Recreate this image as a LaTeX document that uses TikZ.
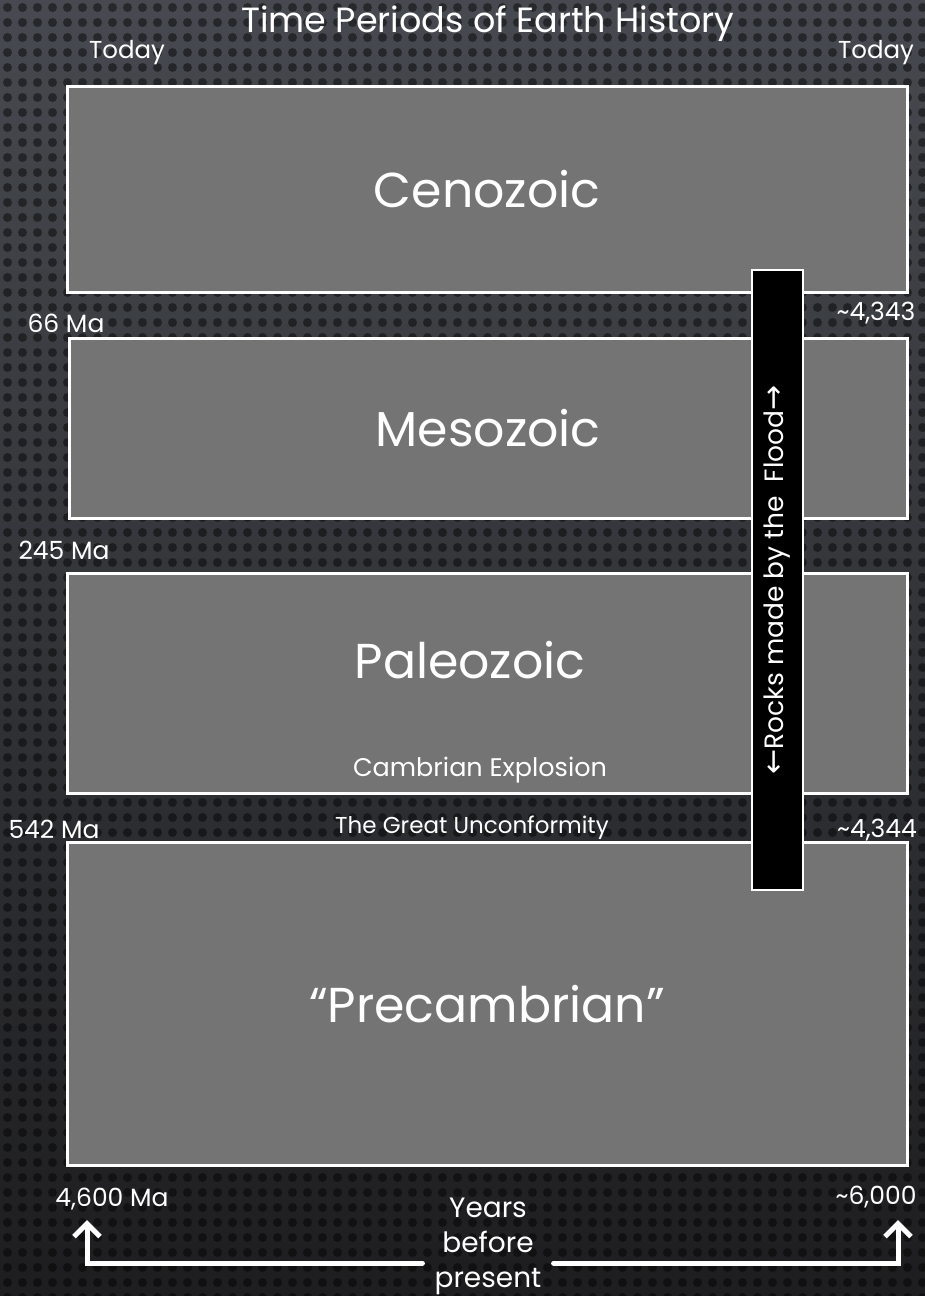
\documentclass[tikz,border=0pt]{standalone}
\usepackage{fontspec}
\setmainfont{Poppins}
\newfontfamily\arrowfont{DejaVu Sans}
\usetikzlibrary{arrows.meta}
\definecolor{bgtop}{RGB}{70,73,79}
\definecolor{bgbottom}{RGB}{30,30,32}
\definecolor{eragray}{RGB}{116,116,116}
\tikzset{
  era/.style={draw=white, line width=3pt, fill=eragray, text=white,
    font=\fontsize{49}{58}\selectfont, inner sep=0pt},
  tag/.style={text=white, font=\fontsize{25}{30}\selectfont, inner sep=1pt},
  flood/.style={draw=white, line width=1.5pt, fill=black, text=white,
    font=\fontsize{26.5}{31}\selectfont, inner sep=0pt},
  yarrow/.style={white, line width=5pt, line cap=round,
    -{Straight Barb[length=13pt,width=26pt,line width=5pt]}}
}
\begin{document}
\begin{tikzpicture}[x=1pt, y=-1pt]
\useasboundingbox (0,0) rectangle (924,1296);
% background in bands, light at top to dark at bottom
\foreach \k in {0,...,71}{
  \pgfmathtruncatemacro{\pct}{100-\k*100/71}
  \fill[bgtop!\pct!bgbottom] (-5,\k*18) rectangle (930,\k*18+19);
}
% dotted texture
\foreach \i in {0,...,61}
  \foreach \j in {0,...,86}
    \fill[black, opacity=0.45] (\i*15+7.5, \j*15+7.5) circle (4.5);
% title and top labels
\node[text=white, font=\fontsize{35}{40}\selectfont] (title) at (488,24) {Time Periods of Earth History};
\node[tag, font=\fontsize{24.5}{29}\selectfont] (todayL) at (127,53) {Today};
\node[tag, font=\fontsize{24.5}{29}\selectfont] (todayR) at (876,53) {Today};
% eras
\node[era, minimum width=840, minimum height=206] (ceno) at (487,189) {Cenozoic};
\node[era, minimum width=838, minimum height=180] (meso) at (488,428) {Mesozoic};
\node[era, minimum width=840, minimum height=220] (paleo) at (487,683) {};
\node[text=white, font=\fontsize{49}{58}\selectfont] (paleolabel) at (470,660) {Paleozoic};
\node[tag, font=\fontsize{25.5}{30}\selectfont] (cambrian) at (480,770) {Cambrian Explosion};
\node[era, minimum width=840, minimum height=323] (pre) at (487,1004) {“Precambrian”};
% boundary labels
\node[tag] (ma66) at (66,323) {66 Ma};
\node[tag] (ma245) at (64,550) {245 Ma};
\node[tag] (ma542) at (54,829) {542 Ma};
\node[tag] (y4343) at (876,313) {\char`\~4,343};
\node[tag] (y4344) at (877,830) {\char`\~4,344};
\node[tag, font=\fontsize{23}{27}\selectfont] (unconf) at (472,828) {The Great Unconformity};
% flood bar
\node[flood, minimum width=620, minimum height=51, rotate=90] (flood) at (777.5,580)
  {{\arrowfont\fontsize{30}{31}\selectfont ←}Rocks made by the\ \ Flood{\arrowfont\fontsize{30}{31}\selectfont →}};
% bottom axis
\node[tag] (ma4600) at (112,1199) {4,600 Ma};
\node[tag] (y6000) at (876,1197) {\char`\~6,000};
\node[tag, align=center, font=\fontsize{28}{35}\selectfont, inner xsep=12pt] (ybp) at (488,1246) {Years\\before\\present};
\coordinate (tipL) at (87,1220);
\coordinate (tipR) at (898,1220);
\draw[yarrow] ([yshift=-17pt]ybp.west) -| (tipL);
\draw[yarrow] ([yshift=-17pt]ybp.east) -| (tipR);
\end{tikzpicture}
\end{document}
